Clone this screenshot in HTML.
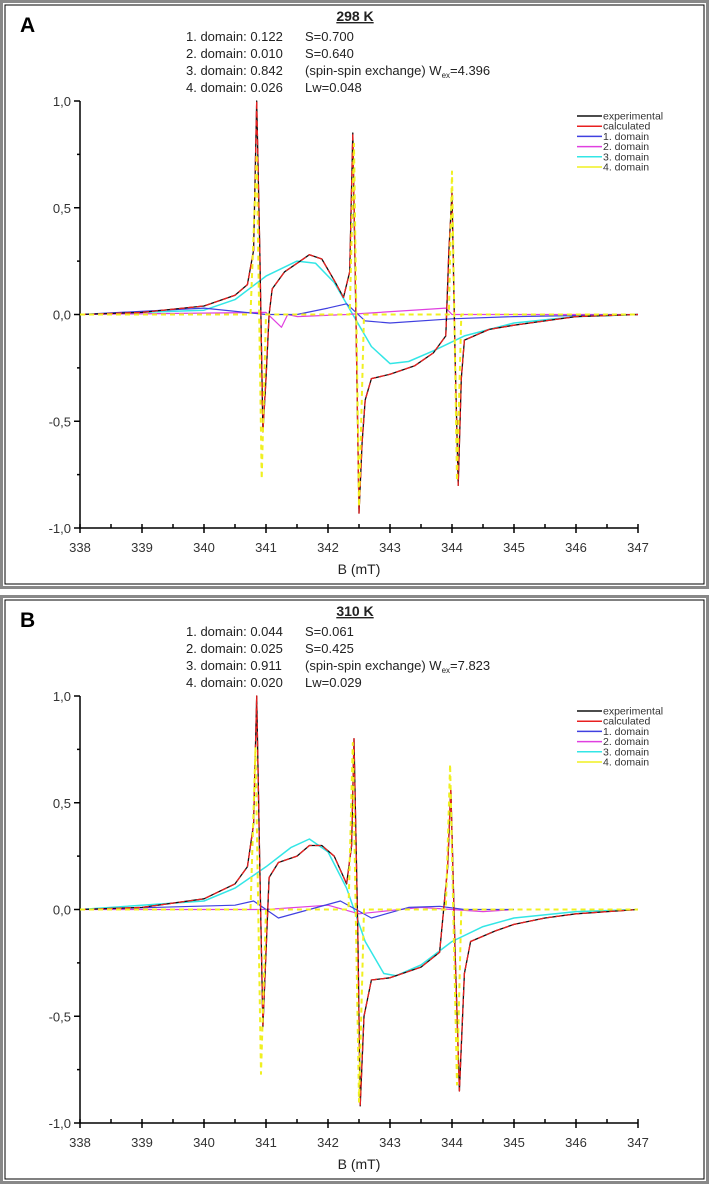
<!DOCTYPE html>
<html><head><meta charset="utf-8">
<style>
body{margin:0;background:#fff;}
svg{display:block;font-family:"Liberation Sans",sans-serif;}
</style></head>
<body>
<svg id="fig" width="709" height="1184" viewBox="0 0 709 1184" xmlns="http://www.w3.org/2000/svg"></svg>
<script>
// ---- data: panel A (298 K) ----
const xTicks=[338,339,340,341,342,343,344,345,346,347];
const yTicks=[1.0,0.5,0.0,-0.5,-1.0];
const yTickLabels=["1,0","0,5","0,0","-0,5","-1,0"];
const A_expX=[338,339,340,340.5,340.7,340.8,340.85,340.9,340.95,341.0,341.05,341.1,341.3,341.5,341.7,341.9,342.1,342.25,342.35,342.4,342.45,342.5,342.55,342.6,342.7,343.0,343.4,343.7,343.9,343.95,344.0,344.05,344.1,344.15,344.2,344.6,345,345.5,346,347];
const A_expY=[0,0.01,0.04,0.09,0.14,0.3,1.0,0.3,-0.55,-0.3,0,0.12,0.2,0.24,0.28,0.26,0.16,0.08,0.2,0.85,0,-0.93,-0.6,-0.4,-0.3,-0.28,-0.24,-0.18,-0.1,0.3,0.57,-0.2,-0.8,-0.3,-0.12,-0.07,-0.05,-0.03,-0.01,0];
const A_cyX=[338,340,340.5,341,341.5,341.8,342.1,342.4,342.7,343,343.3,343.7,344.2,345,346,347];
const A_cyY=[0,0.02,0.07,0.18,0.25,0.24,0.15,0,-0.15,-0.23,-0.22,-0.17,-0.1,-0.04,-0.01,0];
const A_yeX=[338,340.75,340.85,340.93,341.0,342.35,342.42,342.5,342.58,343.95,344.0,344.08,344.15,347];
const A_yeY=[0,0,0.75,-0.77,0,0,0.8,-0.9,0,0,0.67,-0.78,0,0];
const A_blX=[338,340,341,341.5,342,342.3,342.6,343,344,345,347];
const A_blY=[0,0.03,0,0,0.03,0.05,-0.03,-0.04,-0.02,-0.01,0];
const A_maX=[338,341,341.25,341.35,341.5,342.3,343.9,344.0,347];
const A_maY=[0,0.01,-0.06,0,-0.01,0,0.03,0,0];
// ---- data: panel B (310 K) ----
const B_expX=[338,339,340,340.5,340.7,340.8,340.85,340.9,340.95,341.0,341.05,341.2,341.5,341.7,341.9,342.1,342.3,342.38,342.42,342.48,342.52,342.58,342.7,343,343.5,343.8,343.93,343.98,344.05,344.12,344.2,344.3,344.7,345,345.5,346,347];
const B_expY=[0,0.01,0.05,0.12,0.2,0.4,1.0,0.2,-0.55,-0.2,0.15,0.22,0.25,0.3,0.3,0.25,0.12,0.3,0.8,-0.1,-0.92,-0.5,-0.33,-0.32,-0.27,-0.2,0.2,0.57,-0.2,-0.85,-0.3,-0.15,-0.1,-0.07,-0.04,-0.02,0];
const B_cyX=[338,340,340.5,341,341.4,341.7,342,342.3,342.6,342.9,343.1,343.5,344,344.5,345,346,347];
const B_cyY=[0,0.04,0.1,0.2,0.29,0.33,0.27,0.1,-0.15,-0.3,-0.31,-0.26,-0.15,-0.08,-0.04,-0.01,0];
const B_yeX=[338,340.75,340.83,340.92,341.0,342.33,342.4,342.5,342.58,343.9,343.97,344.08,344.15,347];
const B_yeY=[0,0,0.76,-0.77,0,0,0.78,-0.9,0,0,0.68,-0.82,0,0];
const B_blX=[338,340.5,340.8,341.2,341.7,342.2,342.7,343.3,343.8,344.2,345];
const B_blY=[0,0.02,0.04,-0.04,0,0.04,-0.04,0.01,0.015,0,0];
const B_maX=[338,341,342,342.5,343.5,344.5,345];
const B_maY=[0,0,0.02,-0.02,0.01,-0.01,0];

const NS="http://www.w3.org/2000/svg";
const svg=document.getElementById('fig');
function mk(tag,attrs,parent){const e=document.createElementNS(NS,tag);for(const k in attrs)e.setAttribute(k,attrs[k]);(parent||svg).appendChild(e);return e;}

function panel(off,letter,title,lines,S){
  const g=mk('g',{});
  
  
  mk('rect',{x:1.5,y:off+1.5,width:706,height:586,fill:'none',stroke:'#888',"stroke-width":3},g);
  mk('rect',{x:5,y:off+5,width:699,height:579,fill:'none',stroke:'#000',"stroke-width":1},g);
  const X=v=>80+(v-338)*62;
  const Y=v=>off+314.5-v*213.5;
  let t=mk('text',{x:20,y:off+32,"font-size":21,"font-weight":"bold"},g);t.textContent=letter;
  
  t=mk('text',{x:355,y:off+21,"font-size":14,"font-weight":"bold","text-anchor":"middle","text-decoration":"underline",fill:'#222'},g);t.textContent=title;
  
  lines.forEach((l,i)=>{
    const tt=mk('text',{x:186,y:off+41+i*17,"font-size":13,fill:'#222'},g);
    
    const a=mk('tspan',{},tt);a.textContent=l[0];
    const b=mk('tspan',{x:305},tt);b.innerHTML=l[1];
  });
  const ax=mk('g',{stroke:'#000',"stroke-width":1.5},g);
  
  mk('line',{x1:X(338),y1:Y(1.0),x2:X(338),y2:Y(-1.0)},ax);
  mk('line',{x1:X(338),y1:Y(-1.0),x2:X(347),y2:Y(-1.0)},ax);
  yTicks.forEach((v,i)=>{
    mk('line',{x1:X(338)-6,y1:Y(v),x2:X(338),y2:Y(v)},ax);
    if(i<yTicks.length-1)mk('line',{x1:X(338)-3,y1:Y(v-0.25),x2:X(338),y2:Y(v-0.25)},ax);
    const tl=mk('text',{x:X(338)-9,y:Y(v)+5,"font-size":13,"text-anchor":"end",fill:'#333',stroke:'none'},g);
    tl.textContent=yTickLabels[i];
    
  });
  xTicks.forEach((v,i)=>{
    mk('line',{x1:X(v),y1:Y(-1.0)-4,x2:X(v),y2:Y(-1.0)+5},ax);
    if(i<xTicks.length-1)mk('line',{x1:X(v+0.5),y1:Y(-1.0)-4,x2:X(v+0.5),y2:Y(-1.0)},ax);
    const tl=mk('text',{x:X(v),y:Y(-1.0)+24,"font-size":13,"text-anchor":"middle",fill:'#333',stroke:'none'},g);
    tl.textContent=v;
    
  });
  t=mk('text',{x:359,y:off+574,"font-size":14,"text-anchor":"middle",fill:'#222'},g);t.textContent='B (mT)';
  
  function line(xs,ys,col,w,name,dash){
    const d=xs.map((x,i)=>(i?'L':'M')+X(x).toFixed(1)+','+Y(ys[i]).toFixed(1)).join('');
    const p=mk('path',{d:d,fill:'none',stroke:col,"stroke-width":w,"stroke-linejoin":"round"},g);
    if(dash)p.setAttribute('stroke-dasharray',dash);
    
    
  }
  line(S.cyX,S.cyY,'#33e6e6',1.5,'series-domain-3');
  line(S.maX,S.maY,'#e040e0',1.2,'series-domain-2');
  line(S.blX,S.blY,'#4040e0',1.2,'series-domain-1');
  line(S.expX,S.expY,'#111',1.3,'series-experimental');
  line(S.expX,S.expY,'#e82020',1.3,'series-calculated','6,3');
  line(S.yeX,S.yeY,'#f0f020',2,'series-domain-4','5,4');
  const leg=[['experimental','#111'],['calculated','#e82020'],['1. domain','#4040e0'],['2. domain','#e040e0'],['3. domain','#33e6e6'],['4. domain','#f0f020']];
  const lg=mk('g',{},g);
  leg.forEach((l,i)=>{
    const yy=off+116+i*10.2;
    mk('line',{x1:577,y1:yy,x2:602,y2:yy,stroke:l[1],"stroke-width":1.5},lg);
    const e=mk('text',{x:603,y:yy+3.5,"font-size":10.5,fill:'#333'},lg);e.textContent=l[0];
    
  });
}
panel(0,'A','298 K',[["1. domain: 0.122","S=0.700"],["2. domain: 0.010","S=0.640"],["3. domain: 0.842","(spin-spin exchange) W<tspan font-size='8' dy='3'>ex</tspan><tspan dy='-3'>=4.396</tspan>"],["4. domain: 0.026","Lw=0.048"]],
 {expX:A_expX,expY:A_expY,cyX:A_cyX,cyY:A_cyY,yeX:A_yeX,yeY:A_yeY,blX:A_blX,blY:A_blY,maX:A_maX,maY:A_maY});
panel(595,'B','310 K',[["1. domain: 0.044","S=0.061"],["2. domain: 0.025","S=0.425"],["3. domain: 0.911","(spin-spin exchange) W<tspan font-size='8' dy='3'>ex</tspan><tspan dy='-3'>=7.823</tspan>"],["4. domain: 0.020","Lw=0.029"]],
 {expX:B_expX,expY:B_expY,cyX:B_cyX,cyY:B_cyY,yeX:B_yeX,yeY:B_yeY,blX:B_blX,blY:B_blY,maX:B_maX,maY:B_maY});
</script>
</body></html>
